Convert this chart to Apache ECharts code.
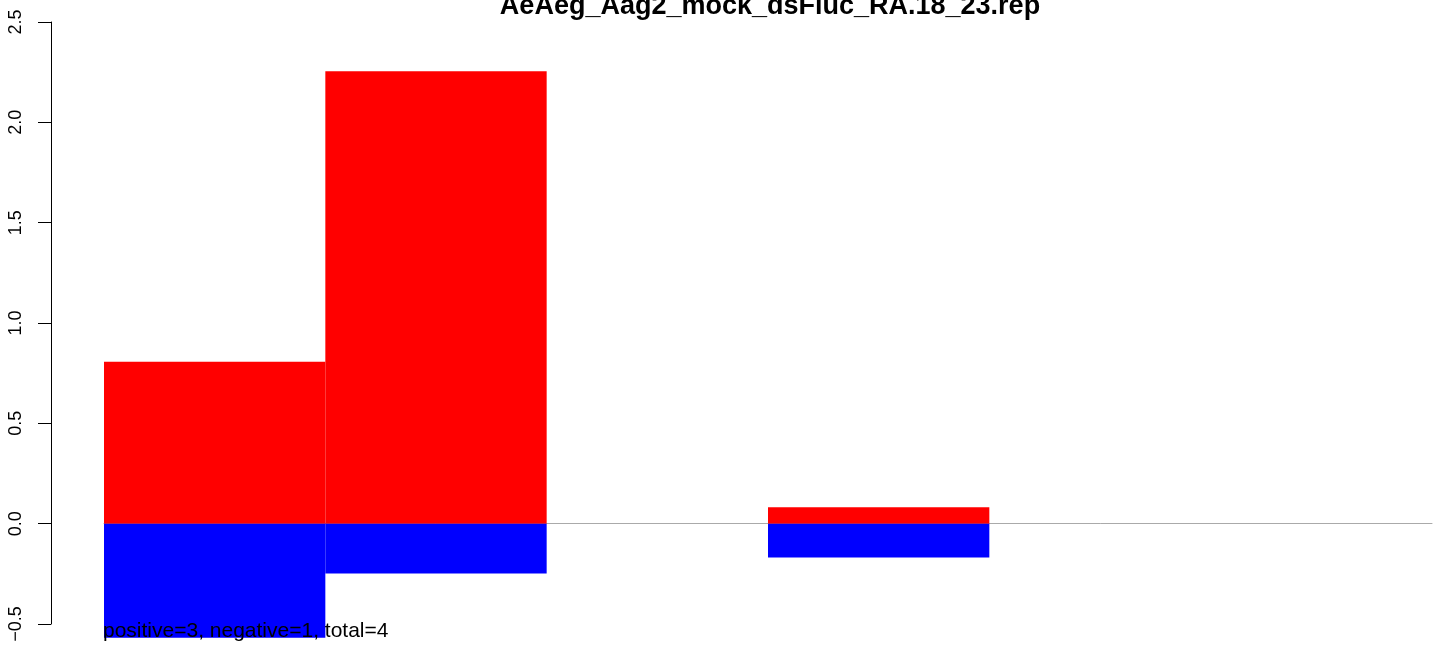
<!DOCTYPE html>
<html>
<head>
<meta charset="utf-8">
<script src="https://cdn.jsdelivr.net/npm/echarts@6/dist/echarts.min.js"></script>
<style>
  html, body { margin: 0; padding: 0; background: #fff; }
  #chart { width: 1444px; height: 648px; }
</style>
</head>
<body>
<div id="chart"></div>
<script>
var titleText = 'AeAeg_Aag2_mock_dsFluc_RA.18_23.rep';
var lengths = ['18', '19', '20', '21', '22', '23'];
var positive = [0.807, 2.255, 0, 0.082, 0, 0];
var negative = [-0.568, -0.248, 0, -0.168, 0, 0];
var yTicks = [-0.5, 0, 0.5, 1, 1.5, 2, 2.5];
var summary = 'positive=3, negative=1, total=4';

var fontFamily = '"Liberation Sans", Arial, Helvetica, sans-serif';

var myChart = echarts.init(document.getElementById('chart'), null, { renderer: 'canvas' });
var option = {
  animation: false,
  backgroundColor: '#fff',
  grid: { left: 104, right: 12, top: 22, bottom: 24, containLabel: false },
  xAxis: {
    type: 'category',
    data: lengths,
    axisLine: { onZero: true, lineStyle: { color: '#aaaaaa', width: 1 } },
    axisTick: { show: false },
    axisLabel: { show: false },
    splitLine: { show: false }
  },
  yAxis: {
    type: 'value',
    min: yTicks[0],
    max: yTicks[yTicks.length - 1],
    interval: 0.5,
    offset: 53,
    axisLine: { show: true, lineStyle: { color: '#000', width: 1 } },
    axisTick: { show: true, length: 13, lineStyle: { color: '#000', width: 1 } },
    axisLabel: {
      rotate: 90,
      margin: 26,
      color: '#000',
      fontSize: 18,
      fontFamily: fontFamily,
      formatter: function (v) { return v.toFixed(1).replace('-', '\u2212'); }
    },
    splitLine: { show: false }
  },
  series: [{
    name: 'positive',
    type: 'bar',
    stack: 'total',
    barCategoryGap: '0%',
    clip: false,
    itemStyle: { color: '#ff0000' },
    data: positive
  }, {
    name: 'negative',
    type: 'bar',
    stack: 'total',
    barCategoryGap: '0%',
    clip: false,
    itemStyle: { color: '#0000ff' },
    data: negative
  }],
  graphic: [{
    type: 'text',
    z: 100,
    x: 770,
    y: 20,
    style: {
      text: titleText,
      fill: '#000',
      font: 'bold 27px ' + fontFamily,
      align: 'center',
      verticalAlign: 'bottom'
    }
  }, {
    type: 'text',
    z: 100,
    x: 103,
    y: 642,
    style: {
      text: summary,
      fill: '#000',
      font: '21px ' + fontFamily,
      align: 'left',
      verticalAlign: 'bottom'
    }
  }]
};
myChart.setOption(option, true);
window.addEventListener('resize', function () {
  myChart.resize();
});
</script>
</body>
</html>
